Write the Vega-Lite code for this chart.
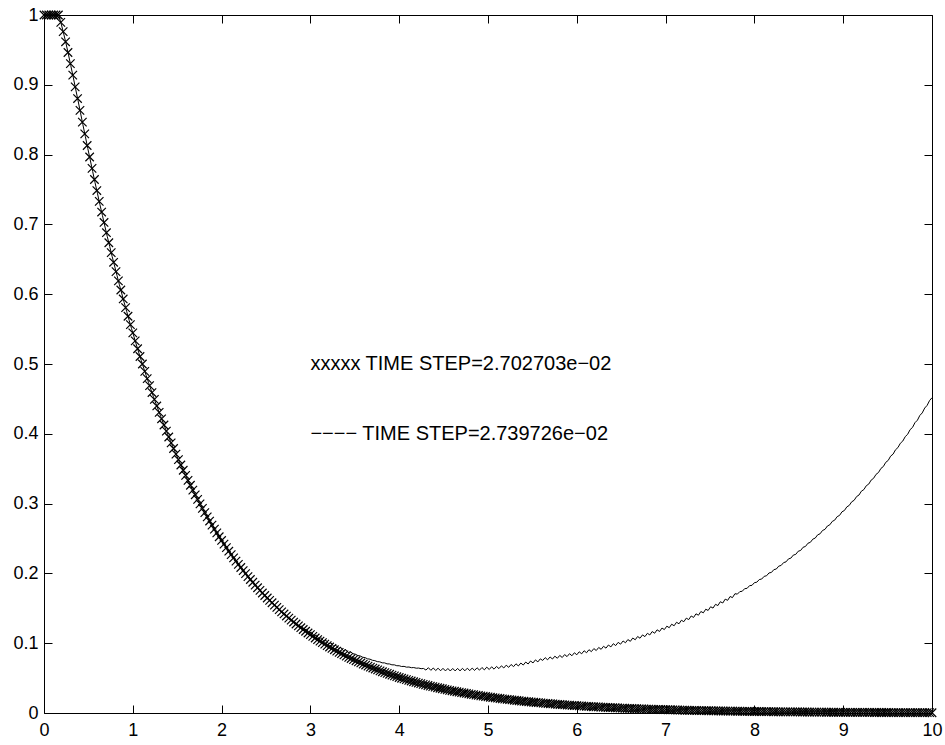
{
"$schema": "https://vega.github.io/schema/vega-lite/v6.json",
"width": 888, "height": 698,
"autosize": {"type": "none"},
"padding": {"left": 44, "top": 15, "right": 13, "bottom": 32},
"background": "white",
"config": {"view": {"stroke": "black", "strokeWidth": 1}, "font": "Liberation Sans"},
"datasets": {
"a": [
{"t":0,"y":1},{"t":0.027,"y":1},{"t":0.054,"y":1},{"t":0.081,"y":1},{"t":0.108,"y":1},{"t":0.135,"y":1},{"t":0.162,"y":1},{"t":0.189,"y":0.9894},{"t":0.216,"y":0.9761},{"t":0.243,"y":0.9616},
{"t":0.270,"y":0.9463},{"t":0.297,"y":0.9303},{"t":0.324,"y":0.9138},{"t":0.351,"y":0.8971},{"t":0.378,"y":0.8803},{"t":0.405,"y":0.8633},{"t":0.432,"y":0.8465},{"t":0.459,"y":0.8297},{"t":0.486,"y":0.813},{"t":0.514,"y":0.7966},
{"t":0.541,"y":0.7803},{"t":0.568,"y":0.7643},{"t":0.595,"y":0.7485},{"t":0.622,"y":0.733},{"t":0.649,"y":0.7177},{"t":0.676,"y":0.7028},{"t":0.703,"y":0.6881},{"t":0.730,"y":0.6737},{"t":0.757,"y":0.6595},{"t":0.784,"y":0.6457},
{"t":0.811,"y":0.6324},{"t":0.838,"y":0.6191},{"t":0.865,"y":0.606},{"t":0.892,"y":0.5932},{"t":0.919,"y":0.5807},{"t":0.946,"y":0.5684},{"t":0.973,"y":0.5564},{"t":1.000,"y":0.5446},{"t":1.027,"y":0.5331},{"t":1.054,"y":0.5219},
{"t":1.081,"y":0.5108},{"t":1.108,"y":0.5},{"t":1.135,"y":0.4895},{"t":1.162,"y":0.4791},{"t":1.189,"y":0.469},{"t":1.216,"y":0.4591},{"t":1.243,"y":0.4494},{"t":1.270,"y":0.4399},{"t":1.297,"y":0.4306},{"t":1.324,"y":0.4215},
{"t":1.351,"y":0.4126},{"t":1.378,"y":0.4039},{"t":1.405,"y":0.3954},{"t":1.432,"y":0.387},{"t":1.459,"y":0.3789},{"t":1.486,"y":0.3708},{"t":1.514,"y":0.363},{"t":1.541,"y":0.3553},{"t":1.568,"y":0.3478},{"t":1.595,"y":0.3405},
{"t":1.622,"y":0.3333},{"t":1.649,"y":0.3263},{"t":1.676,"y":0.3194},{"t":1.703,"y":0.3126},{"t":1.730,"y":0.306},{"t":1.757,"y":0.2996},{"t":1.784,"y":0.2932},{"t":1.811,"y":0.287},{"t":1.838,"y":0.281},{"t":1.865,"y":0.275},
{"t":1.892,"y":0.2692},{"t":1.919,"y":0.2635},{"t":1.946,"y":0.258},{"t":1.973,"y":0.2525},{"t":2.000,"y":0.2472},{"t":2.027,"y":0.242},{"t":2.054,"y":0.2369},{"t":2.081,"y":0.2318},{"t":2.108,"y":0.2269},{"t":2.135,"y":0.2222},
{"t":2.162,"y":0.2175},{"t":2.189,"y":0.2129},{"t":2.216,"y":0.2084},{"t":2.243,"y":0.204},{"t":2.270,"y":0.1997},{"t":2.297,"y":0.1954},{"t":2.324,"y":0.1913},{"t":2.351,"y":0.1873},{"t":2.378,"y":0.1833},{"t":2.405,"y":0.1794},
{"t":2.432,"y":0.1757},{"t":2.459,"y":0.1719},{"t":2.486,"y":0.1683},{"t":2.514,"y":0.1648},{"t":2.541,"y":0.1613},{"t":2.568,"y":0.1579},{"t":2.595,"y":0.1545},{"t":2.622,"y":0.1513},{"t":2.649,"y":0.1481},{"t":2.676,"y":0.1449},
{"t":2.703,"y":0.1419},{"t":2.730,"y":0.1389},{"t":2.757,"y":0.136},{"t":2.784,"y":0.1331},{"t":2.811,"y":0.1303},{"t":2.838,"y":0.1275},{"t":2.865,"y":0.1248},{"t":2.892,"y":0.1222},{"t":2.919,"y":0.1196},{"t":2.946,"y":0.1171},
{"t":2.973,"y":0.1146},{"t":3.000,"y":0.1122},{"t":3.027,"y":0.1098},{"t":3.054,"y":0.1075},{"t":3.081,"y":0.1052},{"t":3.108,"y":0.103},{"t":3.135,"y":0.1008},{"t":3.162,"y":0.0987},{"t":3.189,"y":0.0966},{"t":3.216,"y":0.0946},
{"t":3.243,"y":0.0926},{"t":3.270,"y":0.0906},{"t":3.297,"y":0.0887},{"t":3.324,"y":0.0868},{"t":3.351,"y":0.085},{"t":3.378,"y":0.0832},{"t":3.405,"y":0.0814},{"t":3.432,"y":0.0797},{"t":3.459,"y":0.078},{"t":3.486,"y":0.0764},
{"t":3.514,"y":0.0748},{"t":3.541,"y":0.0732},{"t":3.568,"y":0.0717},{"t":3.595,"y":0.0701},{"t":3.622,"y":0.0687},{"t":3.649,"y":0.0672},{"t":3.676,"y":0.0658},{"t":3.703,"y":0.0644},{"t":3.730,"y":0.063},{"t":3.757,"y":0.0617},
{"t":3.784,"y":0.0604},{"t":3.811,"y":0.0591},{"t":3.838,"y":0.0579},{"t":3.865,"y":0.0567},{"t":3.892,"y":0.0555},{"t":3.919,"y":0.0543},{"t":3.946,"y":0.0531},{"t":3.973,"y":0.052},{"t":4.000,"y":0.0509},{"t":4.027,"y":0.0498},
{"t":4.054,"y":0.0488},{"t":4.081,"y":0.0478},{"t":4.108,"y":0.0467},{"t":4.135,"y":0.0458},{"t":4.162,"y":0.0448},{"t":4.189,"y":0.0438},{"t":4.216,"y":0.0429},{"t":4.243,"y":0.042},{"t":4.270,"y":0.0411},{"t":4.297,"y":0.0403},
{"t":4.324,"y":0.0394},{"t":4.351,"y":0.0386},{"t":4.378,"y":0.0378},{"t":4.405,"y":0.037},{"t":4.432,"y":0.0362},{"t":4.459,"y":0.0354},{"t":4.486,"y":0.0347},{"t":4.514,"y":0.0339},{"t":4.541,"y":0.0332},{"t":4.568,"y":0.0325},
{"t":4.595,"y":0.0318},{"t":4.622,"y":0.0312},{"t":4.649,"y":0.0305},{"t":4.676,"y":0.0299},{"t":4.703,"y":0.0292},{"t":4.730,"y":0.0286},{"t":4.757,"y":0.028},{"t":4.784,"y":0.0274},{"t":4.811,"y":0.0268},{"t":4.838,"y":0.0263},
{"t":4.865,"y":0.0257},{"t":4.892,"y":0.0252},{"t":4.919,"y":0.0246},{"t":4.946,"y":0.0241},{"t":4.973,"y":0.0236},{"t":5.000,"y":0.0231},{"t":5.027,"y":0.0226},{"t":5.054,"y":0.0221},{"t":5.081,"y":0.0217},{"t":5.108,"y":0.0212},
{"t":5.135,"y":0.0208},{"t":5.162,"y":0.0203},{"t":5.189,"y":0.0199},{"t":5.216,"y":0.0195},{"t":5.243,"y":0.0191},{"t":5.270,"y":0.0187},{"t":5.297,"y":0.0183},{"t":5.324,"y":0.0179},{"t":5.351,"y":0.0175},{"t":5.378,"y":0.0171},
{"t":5.405,"y":0.0168},{"t":5.432,"y":0.0164},{"t":5.459,"y":0.0161},{"t":5.486,"y":0.0157},{"t":5.514,"y":0.0154},{"t":5.541,"y":0.0151},{"t":5.568,"y":0.0148},{"t":5.595,"y":0.0145},{"t":5.622,"y":0.0141},{"t":5.649,"y":0.0138},
{"t":5.676,"y":0.0136},{"t":5.703,"y":0.0133},{"t":5.730,"y":0.013},{"t":5.757,"y":0.0127},{"t":5.784,"y":0.0124},{"t":5.811,"y":0.0122},{"t":5.838,"y":0.0119},{"t":5.865,"y":0.0117},{"t":5.892,"y":0.0114},{"t":5.919,"y":0.0112},
{"t":5.946,"y":0.0109},{"t":5.973,"y":0.0107},{"t":6.000,"y":0.0105},{"t":6.027,"y":0.0103},{"t":6.054,"y":0.0101},{"t":6.081,"y":0.0098},{"t":6.108,"y":0.0096},{"t":6.135,"y":0.0094},{"t":6.162,"y":0.0092},{"t":6.189,"y":0.009},
{"t":6.216,"y":0.0088},{"t":6.243,"y":0.0087},{"t":6.270,"y":0.0085},{"t":6.297,"y":0.0083},{"t":6.324,"y":0.0081},{"t":6.351,"y":0.0079},{"t":6.378,"y":0.0078},{"t":6.405,"y":0.0076},{"t":6.432,"y":0.0075},{"t":6.459,"y":0.0073},
{"t":6.486,"y":0.0071},{"t":6.514,"y":0.007},{"t":6.541,"y":0.0068},{"t":6.568,"y":0.0067},{"t":6.595,"y":0.0066},{"t":6.622,"y":0.0064},{"t":6.649,"y":0.0063},{"t":6.676,"y":0.0061},{"t":6.703,"y":0.006},{"t":6.730,"y":0.0059},
{"t":6.757,"y":0.0058},{"t":6.784,"y":0.0056},{"t":6.811,"y":0.0055},{"t":6.838,"y":0.0054},{"t":6.865,"y":0.0053},{"t":6.892,"y":0.0052},{"t":6.919,"y":0.0051},{"t":6.946,"y":0.005},{"t":6.973,"y":0.0049},{"t":7.000,"y":0.0048},
{"t":7.027,"y":0.0047},{"t":7.054,"y":0.0046},{"t":7.081,"y":0.0045},{"t":7.108,"y":0.0044},{"t":7.135,"y":0.0043},{"t":7.162,"y":0.0042},{"t":7.189,"y":0.0041},{"t":7.216,"y":0.004},{"t":7.243,"y":0.0039},{"t":7.270,"y":0.0038},
{"t":7.297,"y":0.0038},{"t":7.324,"y":0.0037},{"t":7.351,"y":0.0036},{"t":7.378,"y":0.0035},{"t":7.405,"y":0.0035},{"t":7.432,"y":0.0034},{"t":7.459,"y":0.0033},{"t":7.486,"y":0.0032},{"t":7.514,"y":0.0032},{"t":7.541,"y":0.0031},
{"t":7.568,"y":0.003},{"t":7.595,"y":0.003},{"t":7.622,"y":0.0029},{"t":7.649,"y":0.0029},{"t":7.676,"y":0.0028},{"t":7.703,"y":0.0027},{"t":7.730,"y":0.0027},{"t":7.757,"y":0.0026},{"t":7.784,"y":0.0026},{"t":7.811,"y":0.0025},
{"t":7.838,"y":0.0025},{"t":7.865,"y":0.0024},{"t":7.892,"y":0.0024},{"t":7.919,"y":0.0023},{"t":7.946,"y":0.0023},{"t":7.973,"y":0.0022},{"t":8.000,"y":0.0022},{"t":8.027,"y":0.0021},{"t":8.054,"y":0.0021},{"t":8.081,"y":0.002},
{"t":8.108,"y":0.002},{"t":8.135,"y":0.0019},{"t":8.162,"y":0.0019},{"t":8.189,"y":0.0019},{"t":8.216,"y":0.0018},{"t":8.243,"y":0.0018},{"t":8.270,"y":0.0017},{"t":8.297,"y":0.0017},{"t":8.324,"y":0.0017},{"t":8.351,"y":0.0016},
{"t":8.378,"y":0.0016},{"t":8.405,"y":0.0016},{"t":8.432,"y":0.0015},{"t":8.459,"y":0.0015},{"t":8.486,"y":0.0015},{"t":8.514,"y":0.0014},{"t":8.541,"y":0.0014},{"t":8.568,"y":0.0014},{"t":8.595,"y":0.0014},{"t":8.622,"y":0.0013},
{"t":8.649,"y":0.0013},{"t":8.676,"y":0.0013},{"t":8.703,"y":0.0012},{"t":8.730,"y":0.0012},{"t":8.757,"y":0.0012},{"t":8.784,"y":0.0012},{"t":8.811,"y":0.0011},{"t":8.838,"y":0.0011},{"t":8.865,"y":0.0011},{"t":8.892,"y":0.0011},
{"t":8.919,"y":0.001},{"t":8.946,"y":0.001},{"t":8.973,"y":0.001},{"t":9.000,"y":0.001},{"t":9.027,"y":0.001},{"t":9.054,"y":0.0009},{"t":9.081,"y":0.0009},{"t":9.108,"y":0.0009},{"t":9.135,"y":0.0009},{"t":9.162,"y":0.0009},
{"t":9.189,"y":0.0008},{"t":9.216,"y":0.0008},{"t":9.243,"y":0.0008},{"t":9.270,"y":0.0008},{"t":9.297,"y":0.0008},{"t":9.324,"y":0.0008},{"t":9.351,"y":0.0007},{"t":9.378,"y":0.0007},{"t":9.405,"y":0.0007},{"t":9.432,"y":0.0007},
{"t":9.459,"y":0.0007},{"t":9.486,"y":0.0007},{"t":9.514,"y":0.0007},{"t":9.541,"y":0.0006},{"t":9.568,"y":0.0006},{"t":9.595,"y":0.0006},{"t":9.622,"y":0.0006},{"t":9.649,"y":0.0006},{"t":9.676,"y":0.0006},{"t":9.703,"y":0.0006},
{"t":9.730,"y":0.0006},{"t":9.757,"y":0.0005},{"t":9.784,"y":0.0005},{"t":9.811,"y":0.0005},{"t":9.838,"y":0.0005},{"t":9.865,"y":0.0005},{"t":9.892,"y":0.0005},{"t":9.919,"y":0.0005},{"t":9.946,"y":0.0005},{"t":9.973,"y":0.0005},
{"t":10,"y":0.0004}
],
"b": [
{"t":0,"y":1},{"t":0.027,"y":1},{"t":0.055,"y":1},{"t":0.082,"y":1},{"t":0.110,"y":1},{"t":0.137,"y":1},{"t":0.164,"y":1},{"t":0.192,"y":0.9882},{"t":0.219,"y":0.9746},{"t":0.247,"y":0.9598},
{"t":0.274,"y":0.9441},{"t":0.301,"y":0.9278},{"t":0.329,"y":0.9111},{"t":0.356,"y":0.8941},{"t":0.384,"y":0.877},{"t":0.411,"y":0.8599},{"t":0.438,"y":0.8428},{"t":0.466,"y":0.8258},{"t":0.493,"y":0.8089},{"t":0.521,"y":0.7923},
{"t":0.548,"y":0.7759},{"t":0.575,"y":0.7597},{"t":0.603,"y":0.7438},{"t":0.630,"y":0.7282},{"t":0.658,"y":0.7128},{"t":0.685,"y":0.6977},{"t":0.712,"y":0.6829},{"t":0.740,"y":0.6684},{"t":0.767,"y":0.6542},{"t":0.795,"y":0.6403},
{"t":0.822,"y":0.6269},{"t":0.849,"y":0.6135},{"t":0.877,"y":0.6003},{"t":0.904,"y":0.5875},{"t":0.932,"y":0.5749},{"t":0.959,"y":0.5626},{"t":0.986,"y":0.5506},{"t":1.014,"y":0.5388},{"t":1.041,"y":0.5272},{"t":1.068,"y":0.5159},
{"t":1.096,"y":0.5049},{"t":1.123,"y":0.4941},{"t":1.151,"y":0.4835},{"t":1.178,"y":0.4732},{"t":1.205,"y":0.463},{"t":1.233,"y":0.4531},{"t":1.260,"y":0.4434},{"t":1.288,"y":0.4339},{"t":1.315,"y":0.4246},{"t":1.342,"y":0.4155},
{"t":1.370,"y":0.4066},{"t":1.397,"y":0.3979},{"t":1.425,"y":0.3894},{"t":1.452,"y":0.3811},{"t":1.479,"y":0.3729},{"t":1.507,"y":0.3649},{"t":1.534,"y":0.3571},{"t":1.562,"y":0.3495},{"t":1.589,"y":0.342},{"t":1.616,"y":0.3347},
{"t":1.644,"y":0.3275},{"t":1.671,"y":0.3205},{"t":1.699,"y":0.3136},{"t":1.726,"y":0.3069},{"t":1.753,"y":0.3003},{"t":1.781,"y":0.2939},{"t":1.808,"y":0.2876},{"t":1.836,"y":0.2815},{"t":1.863,"y":0.2754},{"t":1.890,"y":0.2695},
{"t":1.918,"y":0.2638},{"t":1.945,"y":0.2581},{"t":1.973,"y":0.2526},{"t":2.000,"y":0.2472},{"t":2.027,"y":0.2419},{"t":2.055,"y":0.2367},{"t":2.082,"y":0.2316},{"t":2.110,"y":0.2267},{"t":2.137,"y":0.2218},{"t":2.164,"y":0.2171},
{"t":2.192,"y":0.2124},{"t":2.219,"y":0.2079},{"t":2.247,"y":0.2034},{"t":2.274,"y":0.1991},{"t":2.301,"y":0.1948},{"t":2.329,"y":0.1906},{"t":2.356,"y":0.1866},{"t":2.384,"y":0.1826},{"t":2.411,"y":0.1787},{"t":2.438,"y":0.1748},
{"t":2.466,"y":0.1711},{"t":2.493,"y":0.1674},{"t":2.521,"y":0.1638},{"t":2.548,"y":0.1603},{"t":2.575,"y":0.1569},{"t":2.603,"y":0.1535},{"t":2.630,"y":0.1503},{"t":2.658,"y":0.147},{"t":2.685,"y":0.1439},{"t":2.712,"y":0.1408},
{"t":2.740,"y":0.1378},{"t":2.767,"y":0.1348},{"t":2.795,"y":0.132},{"t":2.822,"y":0.1291},{"t":2.849,"y":0.1264},{"t":2.877,"y":0.1237},{"t":2.904,"y":0.1245},{"t":2.932,"y":0.1192},{"t":2.959,"y":0.12},{"t":2.986,"y":0.1148},
{"t":3.014,"y":0.1157},{"t":3.041,"y":0.1106},{"t":3.068,"y":0.1116},{"t":3.096,"y":0.1066},{"t":3.123,"y":0.1077},{"t":3.151,"y":0.1028},{"t":3.178,"y":0.104},{"t":3.205,"y":0.0992},{"t":3.233,"y":0.1004},{"t":3.260,"y":0.0957},
{"t":3.288,"y":0.0971},{"t":3.315,"y":0.0925},{"t":3.342,"y":0.0939},{"t":3.370,"y":0.0894},{"t":3.397,"y":0.0909},{"t":3.425,"y":0.0864},{"t":3.452,"y":0.088},{"t":3.479,"y":0.0849},{"t":3.507,"y":0.0842},{"t":3.534,"y":0.0823},
{"t":3.562,"y":0.0817},{"t":3.589,"y":0.0799},{"t":3.616,"y":0.0793},{"t":3.644,"y":0.0776},{"t":3.671,"y":0.0771},{"t":3.699,"y":0.0755},{"t":3.726,"y":0.075},{"t":3.753,"y":0.0736},{"t":3.781,"y":0.0733},{"t":3.808,"y":0.0719},
{"t":3.836,"y":0.0718},{"t":3.863,"y":0.0704},{"t":3.890,"y":0.0703},{"t":3.918,"y":0.069},{"t":3.945,"y":0.069},{"t":3.973,"y":0.0677},{"t":4.000,"y":0.0677},{"t":4.027,"y":0.0666},{"t":4.055,"y":0.0668},{"t":4.082,"y":0.0657},
{"t":4.110,"y":0.0659},{"t":4.137,"y":0.0649},{"t":4.164,"y":0.0651},{"t":4.192,"y":0.0642},{"t":4.219,"y":0.0644},{"t":4.247,"y":0.0635},{"t":4.274,"y":0.0638},{"t":4.301,"y":0.0615},{"t":4.329,"y":0.0649},{"t":4.356,"y":0.0611},
{"t":4.384,"y":0.0645},{"t":4.411,"y":0.0608},{"t":4.438,"y":0.0642},{"t":4.466,"y":0.0605},{"t":4.493,"y":0.064},{"t":4.521,"y":0.0603},{"t":4.548,"y":0.0638},{"t":4.575,"y":0.0602},{"t":4.603,"y":0.0638},{"t":4.630,"y":0.0603},
{"t":4.658,"y":0.0639},{"t":4.685,"y":0.0603},{"t":4.712,"y":0.064},{"t":4.740,"y":0.0605},{"t":4.767,"y":0.0642},{"t":4.795,"y":0.0607},{"t":4.822,"y":0.0644},{"t":4.849,"y":0.061},{"t":4.877,"y":0.0648},{"t":4.904,"y":0.0614},
{"t":4.932,"y":0.0652},{"t":4.959,"y":0.0618},{"t":4.986,"y":0.0657},{"t":5.014,"y":0.0623},{"t":5.041,"y":0.0662},{"t":5.068,"y":0.0628},{"t":5.096,"y":0.0667},{"t":5.123,"y":0.0636},{"t":5.151,"y":0.0676},{"t":5.178,"y":0.0645},
{"t":5.205,"y":0.0685},{"t":5.233,"y":0.0654},{"t":5.260,"y":0.0695},{"t":5.288,"y":0.0664},{"t":5.315,"y":0.0705},{"t":5.342,"y":0.0674},{"t":5.370,"y":0.0716},{"t":5.397,"y":0.0687},{"t":5.425,"y":0.073},{"t":5.452,"y":0.0702},
{"t":5.479,"y":0.0745},{"t":5.507,"y":0.0717},{"t":5.534,"y":0.0761},{"t":5.562,"y":0.0732},{"t":5.589,"y":0.0776},{"t":5.616,"y":0.0753},{"t":5.644,"y":0.0793},{"t":5.671,"y":0.0762},{"t":5.699,"y":0.0803},{"t":5.726,"y":0.0773},
{"t":5.753,"y":0.0814},{"t":5.781,"y":0.0784},{"t":5.808,"y":0.0825},{"t":5.836,"y":0.0795},{"t":5.863,"y":0.0837},{"t":5.890,"y":0.0808},{"t":5.918,"y":0.085},{"t":5.945,"y":0.082},{"t":5.973,"y":0.0863},{"t":6.000,"y":0.0834},
{"t":6.027,"y":0.0877},{"t":6.055,"y":0.0848},{"t":6.082,"y":0.0892},{"t":6.110,"y":0.0863},{"t":6.137,"y":0.0907},{"t":6.164,"y":0.0879},{"t":6.192,"y":0.0923},{"t":6.219,"y":0.0895},{"t":6.247,"y":0.0939},{"t":6.274,"y":0.0912},
{"t":6.301,"y":0.0956},{"t":6.329,"y":0.0929},{"t":6.356,"y":0.0974},{"t":6.384,"y":0.0947},{"t":6.411,"y":0.0993},{"t":6.438,"y":0.0966},{"t":6.466,"y":0.1012},{"t":6.493,"y":0.0986},{"t":6.521,"y":0.1032},{"t":6.548,"y":0.1006},
{"t":6.575,"y":0.1052},{"t":6.603,"y":0.1027},{"t":6.630,"y":0.1074},{"t":6.658,"y":0.1049},{"t":6.685,"y":0.1096},{"t":6.712,"y":0.1071},{"t":6.740,"y":0.1119},{"t":6.767,"y":0.1094},{"t":6.795,"y":0.1142},{"t":6.822,"y":0.1118},
{"t":6.849,"y":0.1167},{"t":6.877,"y":0.1143},{"t":6.904,"y":0.1192},{"t":6.932,"y":0.1168},{"t":6.959,"y":0.1217},{"t":6.986,"y":0.1195},{"t":7.014,"y":0.1244},{"t":7.041,"y":0.1222},{"t":7.068,"y":0.1272},{"t":7.096,"y":0.125},
{"t":7.123,"y":0.13},{"t":7.151,"y":0.1278},{"t":7.178,"y":0.1329},{"t":7.205,"y":0.1308},{"t":7.233,"y":0.1359},{"t":7.260,"y":0.1338},{"t":7.288,"y":0.139},{"t":7.315,"y":0.1369},{"t":7.342,"y":0.1421},{"t":7.370,"y":0.1401},
{"t":7.397,"y":0.1454},{"t":7.425,"y":0.1435},{"t":7.452,"y":0.1487},{"t":7.479,"y":0.1469},{"t":7.507,"y":0.1522},{"t":7.534,"y":0.1503},{"t":7.562,"y":0.1557},{"t":7.589,"y":0.1539},{"t":7.616,"y":0.1594},{"t":7.644,"y":0.1576},
{"t":7.671,"y":0.1631},{"t":7.699,"y":0.1614},{"t":7.726,"y":0.1669},{"t":7.753,"y":0.1653},{"t":7.781,"y":0.1709},{"t":7.808,"y":0.1703},{"t":7.836,"y":0.1739},{"t":7.863,"y":0.1744},{"t":7.890,"y":0.1781},{"t":7.918,"y":0.1786},
{"t":7.945,"y":0.1824},{"t":7.973,"y":0.1829},{"t":8.000,"y":0.1867},{"t":8.027,"y":0.1874},{"t":8.055,"y":0.1912},{"t":8.082,"y":0.1919},{"t":8.110,"y":0.1958},{"t":8.137,"y":0.1966},{"t":8.164,"y":0.2006},{"t":8.192,"y":0.2014},
{"t":8.219,"y":0.2054},{"t":8.247,"y":0.2063},{"t":8.274,"y":0.2104},{"t":8.301,"y":0.2114},{"t":8.329,"y":0.2155},{"t":8.356,"y":0.2165},{"t":8.384,"y":0.2208},{"t":8.411,"y":0.2219},{"t":8.438,"y":0.2262},{"t":8.466,"y":0.2273},
{"t":8.493,"y":0.2317},{"t":8.521,"y":0.2329},{"t":8.548,"y":0.2374},{"t":8.575,"y":0.2386},{"t":8.603,"y":0.2432},{"t":8.630,"y":0.2445},{"t":8.658,"y":0.2491},{"t":8.685,"y":0.2506},{"t":8.712,"y":0.2552},{"t":8.740,"y":0.2568},
{"t":8.767,"y":0.2615},{"t":8.795,"y":0.2631},{"t":8.822,"y":0.2679},{"t":8.849,"y":0.2696},{"t":8.877,"y":0.2745},{"t":8.904,"y":0.2763},{"t":8.932,"y":0.2813},{"t":8.959,"y":0.2831},{"t":8.986,"y":0.2882},{"t":9.014,"y":0.2902},
{"t":9.041,"y":0.2953},{"t":9.068,"y":0.2974},{"t":9.096,"y":0.3026},{"t":9.123,"y":0.3047},{"t":9.151,"y":0.3101},{"t":9.178,"y":0.3123},{"t":9.205,"y":0.3178},{"t":9.233,"y":0.3201},{"t":9.260,"y":0.3256},{"t":9.288,"y":0.328},
{"t":9.315,"y":0.3337},{"t":9.342,"y":0.3362},{"t":9.370,"y":0.3419},{"t":9.397,"y":0.3445},{"t":9.425,"y":0.3504},{"t":9.452,"y":0.3531},{"t":9.479,"y":0.3591},{"t":9.507,"y":0.3619},{"t":9.534,"y":0.368},{"t":9.562,"y":0.3709},
{"t":9.589,"y":0.3771},{"t":9.616,"y":0.3802},{"t":9.644,"y":0.3865},{"t":9.671,"y":0.3896},{"t":9.699,"y":0.396},{"t":9.726,"y":0.3993},{"t":9.753,"y":0.4059},{"t":9.781,"y":0.4092},{"t":9.808,"y":0.4159},{"t":9.836,"y":0.4195},
{"t":9.863,"y":0.4263},{"t":9.890,"y":0.4299},{"t":9.918,"y":0.4369},{"t":9.945,"y":0.4407},{"t":9.973,"y":0.4477},{"t":10,"y":0.4517}
],
"lab": [
{"t":3,"y":0.5,"s":"xxxxx TIME STEP=2.702703e−02"},
{"t":3,"y":0.4,"s":"−−−− TIME STEP=2.739726e−02"}
]
},
"layer": [
{
"data": {"name": "b"},
"mark": {"type": "line", "color": "black", "strokeWidth": 1, "clip": false},
"encoding": {
"x": {"field": "t", "type": "quantitative", "scale": {"domain": [0, 10], "nice": false, "zero": false},
 "axis": {"orient": "bottom", "title": null, "values": [0,1,2,3,4,5,6,7,8,9,10], "format": "d", "grid": false, "domain": false,
  "tickSize": -8, "tickColor": "black", "tickWidth": 1, "labelPadding": 16, "labelFontSize": 18, "labelColor": "black", "labelFont": "Liberation Sans", "labelFlush": false}},
"y": {"field": "y", "type": "quantitative", "scale": {"domain": [0, 1], "nice": false, "zero": false},
 "axis": {"orient": "left", "title": null, "values": [0,0.1,0.2,0.3,0.4,0.5,0.6,0.7,0.8,0.9,1], "format": "~g", "grid": false, "domain": false,
  "tickSize": -8, "tickColor": "black", "tickWidth": 1, "labelPadding": 14, "labelFontSize": 18, "labelColor": "black", "labelFont": "Liberation Sans", "labelFlush": false}}
}
},
{
"data": {"name": "a"},
"mark": {"type": "point", "shape": "M-1,-1L1,1M-1,1L1,-1", "filled": false, "stroke": "black", "strokeWidth": 1.2, "size": 72, "opacity": 1, "clip": false},
"encoding": {
"x": {"field": "t", "type": "quantitative", "axis": null},
"y": {"field": "y", "type": "quantitative", "axis": null}
}
},
{
"data": {"name": "lab"},
"mark": {"type": "text", "align": "left", "baseline": "middle", "fontSize": 20, "font": "Liberation Sans", "color": "black"},
"encoding": {
"x": {"field": "t", "type": "quantitative",
 "axis": {"orient": "top", "title": null, "values": [0,1,2,3,4,5,6,7,8,9,10], "labels": false, "grid": false, "domain": false, "tickSize": -8, "tickColor": "black", "tickWidth": 1}},
"y": {"field": "y", "type": "quantitative",
 "axis": {"orient": "right", "title": null, "values": [0,0.1,0.2,0.3,0.4,0.5,0.6,0.7,0.8,0.9,1], "labels": false, "grid": false, "domain": false, "tickSize": -8, "tickColor": "black", "tickWidth": 1}},
"text": {"field": "s", "type": "nominal"}
}
}
]
}
